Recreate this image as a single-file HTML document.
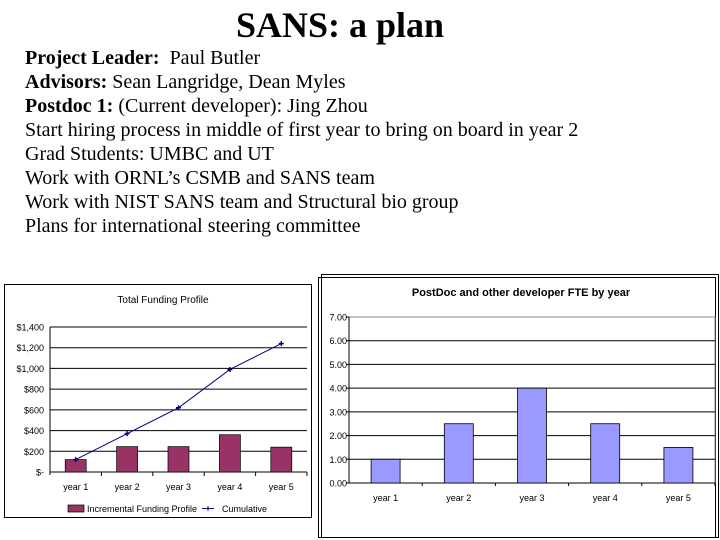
<!DOCTYPE html>
<html><head><meta charset="utf-8"><style>
body{margin:0;width:720px;height:540px;background:#fff;overflow:hidden;position:relative;font-family:"Liberation Serif",serif}
#title{position:absolute;left:0;width:680px;top:4px;text-align:center;font-size:36px;font-weight:bold}
.ln{position:absolute;left:25px;font-size:20px;white-space:nowrap}
svg{position:absolute;left:0;top:0}
</style></head><body>
<div id="title">SANS: a plan</div>
<div class="ln" style="top:47px"><b>Project Leader:</b>&nbsp; Paul Butler</div>
<div class="ln" style="top:71px"><b>Advisors:</b> Sean Langridge, Dean Myles</div>
<div class="ln" style="top:95px"><b>Postdoc 1:</b> (Current developer): Jing Zhou</div>
<div class="ln" style="top:119px">Start hiring process in middle of first year to bring on board in year 2</div>
<div class="ln" style="top:143px">Grad Students: UMBC and UT</div>
<div class="ln" style="top:167px">Work with ORNL’s CSMB and SANS team</div>
<div class="ln" style="top:191px">Work with NIST SANS team and Structural bio group</div>
<div class="ln" style="top:215px">Plans for international steering committee</div>
<svg id="s" width="720" height="540" font-family="Liberation Sans, sans-serif"></svg>
<script>
const cats=["year 1","year 2","year 3","year 4","year 5"];
const incremental=[120,245,245,360,240];
const cumulative=[120,370,620,990,1240];
const fundTicks=["$-","$200","$400","$600","$800","$1,000","$1,200","$1,400"];
const fte=[1.0,2.5,4.0,2.5,1.5];
const fteTicks=["0.00","1.00","2.00","3.00","4.00","5.00","6.00","7.00"];
const s=document.getElementById('s');const NS="http://www.w3.org/2000/svg";
function E(t,a,txt){const e=document.createElementNS(NS,t);for(const k in a)e.setAttribute(k,a[k]);if(txt!=null)e.textContent=txt;s.appendChild(e);return e;}
// left chart
let b=E('rect',{x:4.5,y:284.5,width:307,height:233,fill:'#fff',stroke:'#000'});

let t=E('text',{x:163,y:303,'font-size':10,'text-anchor':'middle'},'Total Funding Profile');

const L={x0:50,x1:307,y0:472,y1:327,max:1400};
const ly=v=>L.y0-(v/L.max)*(L.y0-L.y1);const bw=(L.x1-L.x0)/5;const lx=i=>L.x0+bw*(i+0.5);
fundTicks.forEach((lab,i)=>{const y=ly(i*200);
 let g=E('line',{x1:L.x0,x2:L.x1,y1:y,y2:y,stroke:'#000','stroke-width':1});
 
 let tx=E('text',{x:44,y:y+3.5,'font-size':9,'text-anchor':'end'},lab);
 });
E('line',{x1:L.x0,x2:L.x0,y1:L.y1,y2:L.y0+3,stroke:'#000'});
cats.forEach((c,i)=>{
 let r=E('rect',{x:lx(i)-10.5,y:ly(incremental[i]),width:21,height:L.y0-ly(incremental[i]),fill:'#993366',stroke:'#000','stroke-width':0.7});
 
 E('line',{x1:L.x0+bw*(i+1),x2:L.x0+bw*(i+1),y1:L.y0,y2:L.y0+4,stroke:'#000'});
 let tx=E('text',{x:lx(i),y:490,'font-size':9,'text-anchor':'middle'},c);
 });
let p=E('polyline',{points:cumulative.map((v,i)=>lx(i)+','+ly(v)).join(' '),fill:'none',stroke:'#000080','stroke-width':1});

cumulative.forEach((v,i)=>{let m=E('path',{d:`M${lx(i)-2.5},${ly(v)}h5M${lx(i)},${ly(v)-2.5}v5`,stroke:'#000080','stroke-width':1.5});
 });
let lg=E('rect',{x:68,y:505,width:16,height:7,fill:'#993366',stroke:'#000','stroke-width':0.7});

let lt=E('text',{x:87,y:512,'font-size':9},'Incremental Funding Profile');

E('path',{d:'M202,508.5h12M208,506v5',stroke:'#000080','stroke-width':1});
let lt2=E('text',{x:222,y:512,'font-size':9},'Cumulative');

// right chart
let rb=E('rect',{x:321.5,y:274.5,width:397,height:263,fill:'#fff',stroke:'#000'});

E('rect',{x:318.5,y:277.5,width:397,height:260,fill:'none',stroke:'#000'});
let rt=E('text',{x:521,y:296,'font-size':11,'font-weight':'bold','text-anchor':'middle'},'PostDoc and other developer FTE by year');

const R={x0:349,x1:715,y0:483,y1:317,max:7};
const ry=v=>R.y0-(v/R.max)*(R.y0-R.y1);const rw=(R.x1-R.x0)/5;const rx=i=>R.x0+rw*(i+0.5);
E('rect',{x:R.x0,y:R.y1,width:R.x1-R.x0,height:R.y0-R.y1,fill:'none',stroke:'#888'});
fteTicks.forEach((lab,i)=>{const y=ry(i);
 if(i>0&&i<7){let g=E('line',{x1:R.x0,x2:R.x1,y1:y,y2:y,stroke:'#000'});}
 E('line',{x1:R.x0-3,x2:R.x0,y1:y,y2:y,stroke:'#000'});
 let tx=E('text',{x:347,y:y+3.5,'font-size':9,'text-anchor':'end'},lab);
 });
E('line',{x1:R.x0,x2:R.x0,y1:R.y1,y2:R.y0,stroke:'#000'});
E('line',{x1:R.x0,x2:R.x1,y1:R.y0,y2:R.y0,stroke:'#000'});
cats.forEach((c,i)=>{
 let r=E('rect',{x:rx(i)-14.5,y:ry(fte[i]),width:29,height:R.y0-ry(fte[i]),fill:'#9999ff',stroke:'#000','stroke-width':0.8});
 
 E('line',{x1:R.x0+rw*(i+1),x2:R.x0+rw*(i+1),y1:R.y0,y2:R.y0+3,stroke:'#000'});
 let tx=E('text',{x:rx(i),y:501,'font-size':9,'text-anchor':'middle'},c);
 });
</script>
</body></html>
